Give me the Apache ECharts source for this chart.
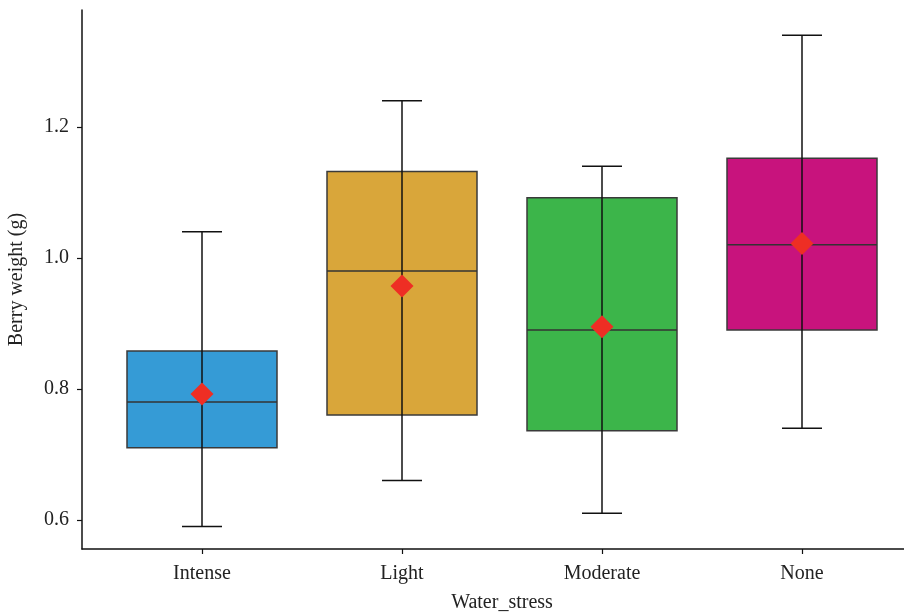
<!DOCTYPE html>
<html>
<head>
<meta charset="utf-8">
<script src="https://cdn.jsdelivr.net/npm/echarts@6/dist/echarts.min.js"></script>
<style>html,body{margin:0;padding:0;background:#fff}#c{width:904px;height:613px}</style>
</head>
<body>
<div id="c"></div>
<script>
const categories = ['Intense', 'Light', 'Moderate', 'None'];
const whiskerLow = [0.59, 0.66, 0.61, 0.74];
const q1 = [0.71, 0.76, 0.736, 0.89];
const median = [0.78, 0.98, 0.89, 1.02];
const q3 = [0.858, 1.132, 1.092, 1.152];
const whiskerHigh = [1.04, 1.24, 1.14, 1.34];
const means = [0.792, 0.957, 0.895, 1.022];
const yTicks = [0.6, 0.8, 1.0, 1.2];
const colors = ['#359bd6', '#d9a63a', '#3cb54a', '#c8137d'];

const boxData = categories.map((c, i) => [i + 1, whiskerLow[i], q1[i], median[i], q3[i], whiskerHigh[i], i]);
const meanData = categories.map((c, i) => [i + 1, means[i]]);

const chart = echarts.init(document.getElementById('c'));
const FONT = 'Liberation Serif';
chart.setOption({
  animation: false,
  grid: { left: 82, top: 10, right: -18, bottom: 64, outerBoundsMode: 'none', containLabel: false },
  xAxis: {
    type: 'value', min: 0.4, max: 4.6,
    name: 'Water_stress', nameLocation: 'middle', nameGap: 44,
    nameTextStyle: { fontFamily: FONT, fontSize: 20, color: '#222' },
    axisLine: { show: true, lineStyle: { color: '#111', width: 1.5 } },
    axisTick: { show: true, length: 5, lineStyle: { color: '#111', width: 1.2 }, customValues: [1, 2, 3, 4] },
    axisLabel: { fontFamily: FONT, fontSize: 20, color: '#222', margin: 15,
      customValues: [1, 2, 3, 4], formatter: v => categories[Math.round(v) - 1] || '' },
    splitLine: { show: false }
  },
  yAxis: {
    type: 'value', min: 0.5555, max: 1.3785,
    name: 'Berry weight (g)', nameLocation: 'middle', nameGap: 55,
    nameTextStyle: { fontFamily: FONT, fontSize: 20, color: '#222' },
    axisLine: { show: true, lineStyle: { color: '#111', width: 1.5 } },
    axisTick: { show: true, length: 5, lineStyle: { color: '#111', width: 1.2 }, customValues: yTicks },
    axisLabel: { fontFamily: FONT, fontSize: 20, color: '#222', margin: 13,
      customValues: yTicks, formatter: v => v.toFixed(1) },
    splitLine: { show: false }
  },
  series: [
    {
      type: 'custom',
      data: boxData,
      encode: { x: 0, y: [1, 2, 3, 4, 5] },
      clip: false,
      renderItem: function (params, api) {
        const x = api.value(0);
        const idx = api.value(6);
        const bw = 0.375, cw = 0.1;
        const pLow = api.coord([x, api.value(1)]);
        const pQ1 = api.coord([x, api.value(2)]);
        const pMed = api.coord([x, api.value(3)]);
        const pQ3 = api.coord([x, api.value(4)]);
        const pHigh = api.coord([x, api.value(5)]);
        const xl = api.coord([x - bw, 1])[0], xr = api.coord([x + bw, 1])[0];
        const cl = api.coord([x - cw, 1])[0], cr = api.coord([x + cw, 1])[0];
        const ls = { stroke: '#111', lineWidth: 1.5 };
        return {
          type: 'group',
          children: [
            { type: 'rect', shape: { x: xl, y: pQ3[1], width: xr - xl, height: pQ1[1] - pQ3[1] },
              style: { fill: colors[idx], stroke: '#3a3a3a', lineWidth: 1.5 } },
            { type: 'line', shape: { x1: xl, y1: pMed[1], x2: xr, y2: pMed[1] }, style: { stroke: '#333', lineWidth: 1.5 } },
            { type: 'line', shape: { x1: pLow[0], y1: pLow[1], x2: pHigh[0], y2: pHigh[1] }, style: ls },
            { type: 'line', shape: { x1: cl, y1: pLow[1], x2: cr, y2: pLow[1] }, style: ls },
            { type: 'line', shape: { x1: cl, y1: pHigh[1], x2: cr, y2: pHigh[1] }, style: ls }
          ]
        };
      },
      z: 2
    },
    {
      type: 'scatter',
      data: meanData,
      symbol: 'diamond',
      symbolSize: [23, 23],
      itemStyle: { color: '#ee2e24', opacity: 1 },
      z: 5
    }
  ]
});
</script>
</body>
</html>
